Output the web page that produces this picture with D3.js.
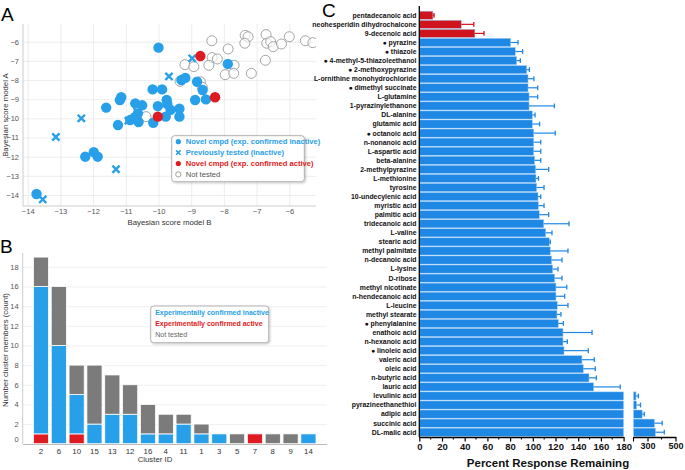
<!DOCTYPE html>
<html><head><meta charset="utf-8">
<script src="https://cdn.jsdelivr.net/npm/d3@7"></script>
<style>body{margin:0;background:#fff} svg{display:block;font-family:"Liberation Sans",Arial,sans-serif}</style>
</head><body><svg id="c" width="685" height="470"></svg>
<script>
// ---------- Panel A data ----------
const xTicksA = [-14,-13,-12,-11,-10,-9,-8,-7,-6];
const yTicksA = [-6,-7,-8,-9,-10,-11,-12,-13,-14];
const inactivePts = [[-10.0,-6.31],[-7.88,-7.16],[-9.30,-8.0],[-9.18,-7.89],[-8.82,-8.09],[-8.65,-8.52],
 [-10.18,-8.49],[-9.89,-8.49],[-11.18,-9.04],[-11.14,-8.90],[-11.60,-9.44],[-10.71,-9.22],[-10.50,-9.32],
 [-10.02,-9.36],[-9.75,-9.04],[-9.73,-9.25],[-9.63,-9.56],[-9.36,-9.50],[-9.36,-9.91],[-9.78,-9.91],
 [-8.88,-9.04],[-8.55,-9.01],[-10.63,-9.74],[-10.73,-9.95],[-10.61,-10.19],[-10.87,-10.09],[-10.16,-10.23],
 [-11.24,-10.35],[-12.24,-12.0],[-11.98,-11.76],[-11.86,-12.0],[-13.73,-13.95]];
const prevTestedPts = [[-8.97,-6.87],[-9.68,-7.81],[-12.36,-10.0],[-13.14,-10.97],[-11.30,-12.66],
 [-13.54,-14.23],[-10.92,-10.12],[-10.65,-9.65]];
const activePts = [[-8.72,-6.75],[-8.27,-8.90],[-10.02,-9.91]];
const notTestedPts = [[-8.37,-5.95],[-7.35,-5.67],[-7.26,-5.74],[-6.71,-5.63],[-7.36,-6.08],[-6.69,-6.08],
 [-6.57,-6.0],[-6.49,-6.26],[-6.24,-6.12],[-6.0,-5.74],[-5.51,-5.95],[-5.28,-6.05],[-7.87,-6.38],
 [-8.36,-6.83],[-8.20,-6.90],[-8.46,-7.23],[-7.69,-7.23],[-6.73,-6.97],[-9.19,-7.20],[-8.92,-7.30],
 [-7.96,-7.72],[-7.70,-7.65],[-7.16,-7.65],[-9.34,-8.07],[-8.72,-8.09],[-8.66,-8.38],[-10.38,-9.91]];
const legendA = ["Novel cmpd (exp. confirmed inactive)","Previously tested (inactive)","Novel cmpd (exp. confirmed active)","Not tested"];

// ---------- Panel B data ----------
const clusters = ["2","6","10","15","13","12","16","4","11","1","3","5","7","8","9","14"];
const activeCnt   = [1,0,1,0,0,0,0,0,0,0,0,0,1,0,0,0];
const inactiveCnt = [15,10,4,2,3,3,1,1,2,1,1,0,0,0,0,1];
const notTestedCnt= [3,6,3,6,4,3,3,2,1,1,0,1,0,1,1,0];
const yTicksB = [0,2,4,6,8,10,12,14,16,18];
const legendB = ["Experimentally confirmed inactive","Experimentally confirmed active","Not tested"];

// ---------- Panel C data ----------
const compounds = ["pentadecanoic acid","neohesperidin dihydrochalcone","9-decenoic acid","● pyrazine","● thiazole",
 "● 4-methyl-5-thiazoleethanol","● 2-methoxypyrazine","L-ornithine monohydrochloride","● dimethyl succinate",
 "L-glutamine","1-pyrazinylethanone","DL-alanine","glutamic acid","● octanoic acid","n-nonanoic acid",
 "L-aspartic acid","beta-alanine","2-methylpyrazine","L-methionine","tyrosine","10-undecylenic acid",
 "myristic acid","palmitic acid","tridecanoic acid","L-valine","stearic acid","methyl palmitate",
 "n-decanoic acid","L-lysine","D-ribose","methyl nicotinate","n-hendecanoic acid","L-leucine",
 "methyl stearate","● phenylalanine","enathoic acid","n-hexanoic acid","● linoleic acid","valeric acid",
 "oleic acid","n-butyric acid","lauric acid","levulinic acid","pyrazineethanethiol","adipic acid",
 "succinic acid","DL-malic acid"];
const responseMean = [12,37,49,80.5,84.6,85.8,94.6,95.8,95.8,96.7,96.7,99.6,99.6,100.8,100.8,100.8,101.7,
 102.5,102.8,103.4,104.6,104.9,105.7,109.6,111.4,114.5,115.4,116.6,117.5,119.3,120.4,120.4,121.6,121.3,
 122.5,126.6,126.6,127.5,143.3,144.5,149.5,153.6,218,222,262,350,357];
const responseErr = [1,11,8,6.5,6.4,3.2,2.4,5.2,8.5,7.6,22.3,2.4,6.4,19,6.2,6.2,5.3,11.5,2.2,6.5,2.4,5,8.3,
 22.3,5.5,0.9,15.6,9.1,4.7,6.4,9.5,7.7,9.4,3.5,4.4,25.6,3.8,21.4,10.9,10.5,6.5,23.4,17,28,15,55,63];
const activeCompounds = 3;
const xTicksC1 = [0,20,40,60,80,100,120,140,160,180];
const xTicksC2 = [300,500];

// ---------- drawing ----------
const svg = d3.select("#c");
const defs = svg.append("defs");
const f = defs.append("filter").attr("id","sh").attr("x","-10%").attr("y","-10%").attr("width","130%").attr("height","140%");
f.append("feDropShadow").attr("dx",1).attr("dy",1).attr("stdDeviation",1.2).attr("flood-color","#000").attr("flood-opacity",0.25);

const BLUE = "#28a0e9", RED = "#df1b22", GRAY = "#7b7b7b";

// Panel labels
svg.append("text").attr("x",1).attr("y",21).attr("font-size",19).text("A");
svg.append("text").attr("x",0).attr("y",253).attr("font-size",19).text("B");
svg.append("text").attr("x",322).attr("y",17).attr("font-size",19).text("C");

// ===== Panel A =====
const A = {l:23, r:316, t:24, b:206};
const xA = d3.scaleLinear().domain([-14,-6]).range([27.7,289.3]);
const yA = d3.scaleLinear().domain([-6,-14]).range([41.7,195]);
const gA = svg.append("g");
const axA = gA.append("g").attr("transform",`translate(0,${A.b})`)
  .call(d3.axisBottom(xA).tickValues(xTicksA).tickSize(-(A.b-A.t)).tickPadding(3).tickSizeOuter(0));
const ayA = gA.append("g").attr("transform",`translate(${A.l},0)`)
  .call(d3.axisLeft(yA).tickValues(yTicksA).tickSize(-(A.r-A.l)).tickPadding(4).tickSizeOuter(0));
[axA,ayA].forEach(g=>{
  g.select(".domain").remove();
  g.selectAll(".tick line").attr("stroke","#e9e9e9").attr("stroke-width",0.8);
  g.selectAll(".tick text").attr("fill","#555").attr("font-size",7.5).attr("font-family","Liberation Sans, Arial");
});
gA.append("line").attr("x1",A.l).attr("x2",A.l).attr("y1",A.t).attr("y2",A.b).attr("stroke","#ccc");
gA.append("line").attr("x1",A.l).attr("x2",A.r).attr("y1",A.b).attr("y2",A.b).attr("stroke","#ccc");
defs.append("clipPath").attr("id","clipA").append("rect").attr("x",A.l).attr("y",A.t).attr("width",A.r-A.l).attr("height",A.b-A.t);
const pA = gA.append("g").attr("clip-path","url(#clipA)");
pA.selectAll(".nt").data(notTestedPts).join("circle").attr("cx",d=>xA(d[0])).attr("cy",d=>yA(d[1])).attr("r",5)
  .attr("fill","#fff").attr("fill-opacity",0.6).attr("stroke","#9a9a9a").attr("stroke-width",0.9);
pA.selectAll(".in").data(inactivePts).join("circle").attr("cx",d=>xA(d[0])).attr("cy",d=>yA(d[1])).attr("r",5.2)
  .attr("fill",BLUE);
const xs = 3.6;
pA.selectAll(".pt").data(prevTestedPts).join("path")
  .attr("d",d=>{const x=xA(d[0]),y=yA(d[1]);return `M${x-xs},${y-xs}L${x+xs},${y+xs}M${x-xs},${y+xs}L${x+xs},${y-xs}`;})
  .attr("stroke",BLUE).attr("stroke-width",2.4);
pA.selectAll(".ac").data(activePts).join("circle").attr("cx",d=>xA(d[0])).attr("cy",d=>yA(d[1])).attr("r",5.2)
  .attr("fill",RED);
svg.append("text").attr("transform",`translate(8,${(A.t+A.b)/2}) rotate(-90)`).attr("text-anchor","middle")
  .attr("font-size",7.8).attr("fill","#333").text("Bayesian score model A");
svg.append("text").attr("x",(A.l+A.r)/2).attr("y",225).attr("text-anchor","middle")
  .attr("font-size",7.8).attr("fill","#333").text("Bayesian score model B");
// legend A
const lgA = svg.append("g").attr("transform","translate(171.7,135.7)");
lgA.append("rect").attr("width",132.6).attr("height",46).attr("rx",3).attr("fill","#fff").attr("stroke","#a0a0a0").attr("stroke-width",0.8).attr("filter","url(#sh)");
const lgColA = [BLUE,BLUE,RED,"#555"];
legendA.forEach((t,i)=>{
  const y = 6 + i*10.9;
  const g = lgA.append("g").attr("transform",`translate(6.6,${y})`);
  if(i===0||i===2) g.append("circle").attr("r",2.6).attr("fill",lgColA[i]);
  if(i===1) g.append("path").attr("d","M-2.2,-2.2L2.2,2.2M-2.2,2.2L2.2,-2.2").attr("stroke",BLUE).attr("stroke-width",1.6);
  if(i===3) g.append("circle").attr("r",2.6).attr("fill","#fff").attr("stroke","#888").attr("stroke-width",0.8);
  g.append("text").attr("x",7.4).attr("y",2.6).attr("font-size",7.6).attr("font-weight",i===3?"normal":"bold")
    .attr("fill",lgColA[i]).text(t);
});

// ===== Panel B =====
const B = {l:22.7, r:326.7, b:444};
const xB = d3.scaleBand().domain(clusters).range([B.l,B.r]).paddingInner(0.15).paddingOuter(0.6);
const yB = d3.scaleLinear().domain([0,18]).range([443.7,266.9]);
const gB = svg.append("g");
const ayB = gB.append("g").attr("transform",`translate(${B.l},0)`)
  .call(d3.axisLeft(yB).tickValues(yTicksB).tickSize(-(B.r-B.l)).tickPadding(4).tickSizeOuter(0));
ayB.select(".domain").remove();
ayB.selectAll(".tick line").attr("stroke","#ececec").attr("stroke-width",0.8);
ayB.selectAll(".tick text").attr("fill","#555").attr("font-size",7.5).attr("font-family","Liberation Sans, Arial");
ayB.selectAll(".tick").filter(d=>d===0).select("text").attr("dy","-0.3em");
ayB.selectAll(".tick").filter(d=>d===0).select("line").remove();
gB.append("line").attr("x1",B.l).attr("x2",B.l).attr("y1",253).attr("y2",B.b).attr("stroke","#ccc");
const tableB = clusters.map((c,i)=>({c, active:activeCnt[i], inactive:inactiveCnt[i], nottested:notTestedCnt[i]}));
const stackB = d3.stack().keys(["active","inactive","nottested"])(tableB);
const colB = {active:RED, inactive:BLUE, nottested:GRAY};
stackB.forEach(s=>{
  gB.append("g").selectAll("rect").data(s.filter(d=>d[1]>d[0])).join("rect")
    .attr("x",d=>xB(d.data.c)).attr("width",xB.bandwidth())
    .attr("y",d=>yB(d[1])).attr("height",d=>yB(d[0])-yB(d[1]))
    .attr("fill",colB[s.key]).attr("stroke","#fff").attr("stroke-width",0.8);
});
const axB = gB.append("g").attr("transform",`translate(0,${B.b})`)
  .call(d3.axisBottom(xB).tickSize(0).tickPadding(4).tickSizeOuter(0));
axB.select(".domain").attr("stroke","#bbb").attr("stroke-width",1.2);
axB.selectAll(".tick text").attr("fill","#333").attr("font-size",7.8).attr("font-family","Liberation Sans, Arial");
svg.append("text").attr("transform",`translate(8,350) rotate(-90)`).attr("text-anchor","middle")
  .attr("font-size",7.8).attr("fill","#333").text("Number cluster members (count)");
svg.append("text").attr("x",155).attr("y",462).attr("text-anchor","middle")
  .attr("font-size",7.8).attr("fill","#333").text("Cluster ID");
const lgB = svg.append("g").attr("transform","translate(150.7,306)");
lgB.append("rect").attr("width",118).attr("height",36.7).attr("rx",3).attr("fill","#fff").attr("stroke","#a0a0a0").attr("stroke-width",0.8).attr("filter","url(#sh)");
const lgColB = [BLUE,RED,"#666"];
legendB.forEach((t,i)=>{
  lgB.append("text").attr("x",4.5).attr("y",8.6+i*11).attr("font-size",7).attr("font-weight",i===2?"normal":"bold")
    .attr("fill",lgColB[i]).text(t);
});

// ===== Panel C =====
const CBLUE = "#1f87e4", CRED = "#d0141d";
const yC = d3.scaleBand().domain(compounds).range([11.2,436.3]).paddingInner(0.1);
const x1 = d3.scaleLinear().domain([0,180]).range([419.3,623.6]);
const x2 = d3.scaleLinear().domain([200,500]).range([633.5,675.5]);
const gC = svg.append("g");
const dataC = compounds.map((n,i)=>({n, v:responseMean[i], e:responseErr[i], col: i<activeCompounds?CRED:CBLUE}));
const posX = v => v<=180 ? x1(v) : x2(v);
dataC.forEach(d=>{
  const y = yC(d.n), h = yC.bandwidth();
  gC.append("rect").attr("x",x1(0)).attr("y",y).attr("width",x1(Math.min(d.v,180))-x1(0)).attr("height",h)
    .attr("fill",d.col).attr("stroke","#9fcdf5").attr("stroke-width",0.5);
  if(d.v>180){
    gC.append("rect").attr("x",x2(200)).attr("y",y).attr("width",x2(d.v)-x2(200)).attr("height",h)
      .attr("fill",d.col).attr("stroke","#9fcdf5").attr("stroke-width",0.5);
  }
  const xe0 = posX(d.v), xe1 = posX(d.v+d.e), yc = y+h/2;
  gC.append("line").attr("x1",xe0).attr("x2",xe1).attr("y1",yc).attr("y2",yc).attr("stroke",d.col).attr("stroke-width",1.2);
  gC.append("line").attr("x1",xe1).attr("x2",xe1).attr("y1",yc-2.4).attr("y2",yc+2.4).attr("stroke",d.col).attr("stroke-width",1.3);
});
// left axis
gC.append("line").attr("x1",419.3).attr("x2",419.3).attr("y1",6).attr("y2",437).attr("stroke","#000").attr("stroke-width",1.3);
gC.append("g").selectAll("text").data(compounds).join("text")
  .attr("x",416.5).attr("y",d=>yC(d)+yC.bandwidth()/2+2.4).attr("text-anchor","end")
  .attr("font-size",6.9).attr("font-weight","bold").attr("fill","#111").text(d=>d);
// bottom axes
const styleC = g=>{
  g.select(".domain").attr("stroke","#000").attr("stroke-width",1.3);
  g.selectAll(".tick line").attr("stroke","#000").attr("stroke-width",1.2);
  g.selectAll(".tick text").attr("fill","#111").attr("font-size",9.5).attr("font-weight","bold").attr("font-family","Liberation Sans, Arial");
};
const bx1 = gC.append("g").attr("transform","translate(0,437)")
  .call(d3.axisBottom(x1).tickValues(xTicksC1).tickSize(4.5).tickPadding(1.5).tickSizeOuter(0));
styleC(bx1);
bx1.selectAll(".minor").data(d3.range(10,180,20)).join("line").attr("x1",d=>x1(d)).attr("x2",d=>x1(d))
  .attr("y1",0).attr("y2",2.5).attr("stroke","#000").attr("stroke-width",1.1);
const bx2 = gC.append("g").attr("transform","translate(0,437)")
  .call(d3.axisBottom(x2).tickValues(xTicksC2).tickSize(4.5).tickPadding(1.5).tickSizeOuter(0));
styleC(bx2);
bx2.selectAll(".tick text").attr("font-size",9);
bx2.selectAll(".minor").data([200,400]).join("line").attr("x1",d=>x2(d)).attr("x2",d=>x2(d))
  .attr("y1",0).attr("y2",d=>d===200?4.5:2.5).attr("stroke","#000").attr("stroke-width",1.1);
svg.append("text").attr("x",548).attr("y",467).attr("text-anchor","middle").attr("font-size",11.5)
  .attr("font-weight","bold").attr("fill","#111").text("Percent Response Remaining");
</script></body></html>
